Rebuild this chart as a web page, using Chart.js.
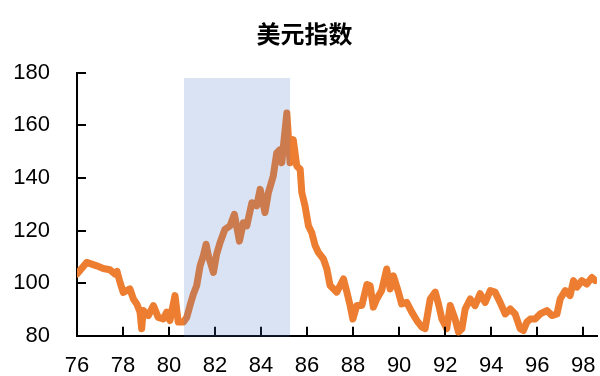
<!DOCTYPE html>
<html>
<head>
<meta charset="utf-8">
<script src="https://cdn.jsdelivr.net/npm/chart.js@4/dist/chart.umd.min.js"></script>
<style>
  html, body { margin: 0; padding: 0; background: #ffffff; }
  #wrap { width: 600px; height: 376px; }
</style>
</head>
<body>
<div id="wrap"><canvas id="c" width="600" height="376"></canvas></div>
<script>
// ---- data ----
const chartTitle = '美元指数';
const years = [
  76.00, 76.42, 76.86, 77.14, 77.43, 77.65, 77.74, 77.87, 78.01, 78.30,
  78.45, 78.60, 78.74, 78.81, 78.88, 79.10, 79.32, 79.53, 79.75, 79.90,
  80.04, 80.26, 80.40, 80.62, 80.77, 80.91, 81.06, 81.20, 81.35, 81.49,
  81.61, 81.71, 81.93, 82.07, 82.22, 82.43, 82.65, 82.84, 83.06, 83.23,
  83.38, 83.60, 83.81, 83.96, 84.17, 84.32, 84.53, 84.68, 84.83, 84.90,
  85.00, 85.12, 85.26, 85.40, 85.55, 85.70, 85.77, 85.91, 86.06, 86.20,
  86.35, 86.49, 86.71, 86.86, 87.00, 87.29, 87.58, 87.73, 87.87, 87.99,
  88.16, 88.38, 88.60, 88.74, 88.88, 89.03, 89.24, 89.46, 89.61, 89.75,
  89.97, 90.11, 90.33, 90.55, 90.77, 90.99, 91.13, 91.35, 91.57, 91.71,
  91.86, 92.07, 92.22, 92.43, 92.58, 92.73, 92.87, 93.09, 93.30, 93.52,
  93.74, 93.96, 94.17, 94.39, 94.61, 94.83, 95.04, 95.26, 95.40, 95.55,
  95.70, 95.91, 96.13, 96.42, 96.64, 96.86, 97.00, 97.22, 97.43, 97.58,
  97.73, 97.94, 98.16, 98.38, 98.52
];
const usdIndex = [
  103.5, 107.9, 106.6, 105.6, 105.1, 103.5, 104.5, 100.3, 96.5, 97.8,
  94.0, 92.1, 89.0, 82.7, 89.6, 87.7, 91.5, 87.0, 86.4, 89.0,
  85.8, 95.3, 85.2, 85.2, 87.0, 91.5, 95.9, 99.0, 106.6, 110.4,
  114.8, 110.4, 104.1, 111.1, 115.5, 120.5, 121.8, 126.2, 116.0, 123.0,
  121.8, 130.6, 129.4, 135.7, 126.9, 134.5, 140.8, 149.5, 150.8, 145.8,
  154.6, 164.7, 145.8, 154.6, 144.6, 143.3, 134.5, 129.4, 121.8, 119.3,
  114.3, 111.7, 109.2, 105.4, 99.1, 96.6, 101.6, 96.6, 91.5, 86.4,
  91.5, 91.5, 99.5, 99.0, 90.9, 94.0, 97.2, 105.4, 97.8, 102.8,
  96.6, 92.1, 92.7, 89.0, 85.8, 83.3, 82.7, 94.0, 96.6, 92.1,
  86.4, 82.7, 91.5, 86.4, 81.4, 82.7, 90.2, 94.0, 91.5, 96.0,
  92.7, 97.2, 96.6, 92.7, 88.3, 90.2, 88.3, 82.7, 82.0, 85.2,
  86.4, 86.4, 88.3, 89.6, 87.7, 88.3, 94.0, 97.2, 95.3, 101.0,
  98.5, 101.0, 99.7, 102.2, 101.0
];
const xTickYears = [76, 78, 80, 82, 84, 86, 88, 90, 92, 94, 96, 98];
const yTickValues = [80, 100, 120, 140, 160, 180];
const xMin = 76, xMax = 98.6;
const yMin = 80, yMax = 180;
// shaded period (approx. Aug 1980 - Mar 1985)
const shadeStart = 80.65, shadeEnd = 85.26, shadeTop = 178;

const points = years.map((y, i) => ({ x: y, y: usdIndex[i] }));
const tickFont = 'Arial, "Liberation Sans", sans-serif';

const overlayPlugin = {
  id: 'overlay',
  afterDatasetsDraw(chart) {
    const { ctx, scales: { x, y } } = chart;
    const x0 = x.getPixelForValue(xMin);
    const yBase = y.getPixelForValue(yMin);
    ctx.save();
    // inward tick marks
    ctx.strokeStyle = '#000000';
    ctx.lineWidth = 2;
    ctx.beginPath();
    xTickYears.forEach(v => {
      if (v === xMin) return;
      const px = Math.round(x.getPixelForValue(v));
      ctx.moveTo(px, yBase);
      ctx.lineTo(px, yBase - 9);
    });
    yTickValues.forEach(v => {
      if (v === yMin) return;
      const py = Math.round(y.getPixelForValue(v));
      ctx.moveTo(x0, py);
      ctx.lineTo(x0 + 9, py);
    });
    ctx.stroke();
    // shaded period drawn over the line and axis
    const sx0 = x.getPixelForValue(shadeStart);
    const sx1 = x.getPixelForValue(shadeEnd);
    const sy0 = y.getPixelForValue(shadeTop);
    ctx.fillStyle = 'rgba(68,114,196,0.2)';
    ctx.fillRect(sx0, sy0, sx1 - sx0, yBase + 1 - sy0);
    ctx.restore();
  }
};

new Chart(document.getElementById('c'), {
  type: 'line',
  data: {
    datasets: [{
      data: points,
      borderColor: '#ED7D31',
      backgroundColor: '#ED7D31',
      borderWidth: 7,
      pointRadius: 0,
      tension: 0,
      borderJoinStyle: 'round',
      borderCapStyle: 'round'
    }]
  },
  options: {
    responsive: false,
    animation: false,
    devicePixelRatio: 1,
    layout: { padding: { left: 12, right: 3, top: 0, bottom: 0 } },
    plugins: {
      legend: { display: false },
      tooltip: { enabled: false },
      title: {
        display: true,
        text: chartTitle,
        color: '#000000',
        font: { family: '"Noto Sans CJK SC", "Liberation Sans", sans-serif', size: 24, weight: 'bold' },
        padding: { top: 19, bottom: 25 }
      }
    },
    scales: {
      x: {
        type: 'linear',
        min: xMin,
        max: xMax,
        afterBuildTicks: s => { s.ticks = xTickYears.map(v => ({ value: v })); },
        afterFit: s => { s.height = 39; s.paddingLeft = 0; s.paddingRight = 0; },
        grid: { display: true, drawOnChartArea: false, drawTicks: false },
        border: { display: true, color: '#000000', width: 2 },
        ticks: {
          color: '#000000',
          padding: 17,
          maxRotation: 0,
          autoSkip: false,
          font: { family: tickFont, size: 22 },
          callback: v => String(v)
        }
      },
      y: {
        min: yMin,
        max: yMax,
        afterBuildTicks: s => { s.ticks = yTickValues.map(v => ({ value: v })); },
        afterFit: s => { s.width = 65; },
        grid: { display: true, drawOnChartArea: false, drawTicks: false },
        border: { display: true, color: '#000000', width: 2 },
        ticks: {
          color: '#000000',
          padding: 27,
          font: { family: tickFont, size: 22 },
          callback: v => String(v)
        }
      }
    }
  },
  plugins: [overlayPlugin]
});
</script>
</body>
</html>
